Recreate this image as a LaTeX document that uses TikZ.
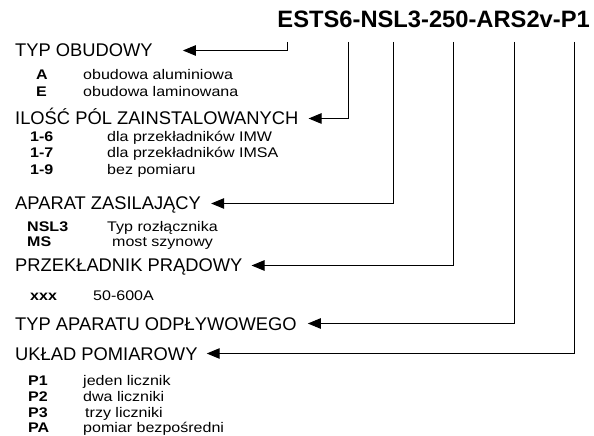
\documentclass[tikz,border=0pt]{standalone}
\usepackage{fontspec}
\setmainfont{Liberation Sans}
\newfontfamily\itemfont[FakeStretch=1.15]{Liberation Sans}
\usetikzlibrary{arrows.meta}
\begin{document}
\begin{tikzpicture}[x=1bp,y=-1bp]
	\tikzset{head/.style = {anchor=base west,inner sep=0,text height=13bp,text depth=0pt,font=\fontsize{18.4}{20}\selectfont}}
	\tikzset{key/.style = {anchor=base west,inner sep=0,font=\itemfont\fontsize{14}{16}\selectfont\bfseries}}
	\tikzset{desc/.style = {anchor=base west,inner sep=0,font=\itemfont\fontsize{14}{16}\selectfont}}
	\tikzset{edge/.style = {-{Triangle[length=13bp,width=10.5bp]},line width=1bp}}
	\useasboundingbox (0,0) rectangle (594,436);
	% oznaczenie
	\node[anchor=base east,inner sep=0,font=\fontsize{23.8}{26}\selectfont\bfseries] (code) at (590,28) {ESTS6-NSL3-250-ARS2v-P1};
	\coordinate (c1) at (287,42);
	\coordinate (c2) at (348,42);
	\coordinate (c3) at (393,42);
	\coordinate (c4) at (453,42);
	\coordinate (c5) at (514,42);
	\coordinate (c6) at (574,42);
	% grupy
	\node[head] (obud) at (15,57) {TYP OBUDOWY};
	\node[head] (pola) at (15,125) {ILOŚĆ PÓL ZAINSTALOWANYCH};
	\node[head] (zasil) at (15,210) {APARAT ZASILAJĄCY};
	\node[head] (przekl) at (15,272) {PRZEKŁADNIK PRĄDOWY};
	\node[head] (odpl) at (15,330) {TYP APARATU ODPŁYWOWEGO};
	\node[head] (pomiar) at (15,360) {UKŁAD POMIAROWY};
	% warianty
	\node[key] (kA) at (36,80) {A};
	\node[desc] (dA) at (83,80) {obudowa aluminiowa};
	\node[key] (kE) at (36,97) {E};
	\node[desc] (dE) at (83,97) {obudowa laminowana};
	\node[key] (k16) at (30,142) {1-6};
	\node[desc] (d16) at (107,142) {dla przekładników IMW};
	\node[key] (k17) at (30,158) {1-7};
	\node[desc] (d17) at (107,158) {dla przekładników IMSA};
	\node[key] (k19) at (30,175) {1-9};
	\node[desc] (d19) at (107,175) {bez pomiaru};
	\node[key] (kNSL) at (27,232) {NSL3};
	\node[desc] (dNSL) at (107,232) {Typ rozłącznika};
	\node[key] (kMS) at (27,247) {MS};
	\node[desc] (dMS) at (112,247) {most szynowy};
	\node[key] (kxxx) at (30,300) {xxx};
	\node[desc] (dxxx) at (93,300) {50-600A};
	\node[key] (kP1) at (28,385) {P1};
	\node[desc] (dP1) at (83,385) {jeden licznik};
	\node[key] (kP2) at (28,401) {P2};
	\node[desc] (dP2) at (83,401) {dwa liczniki};
	\node[key] (kP3) at (28,417) {P3};
	\node[desc] (dP3) at (85,417) {trzy liczniki};
	\node[key] (kPA) at (28,432) {PA};
	\node[desc] (dPA) at (83,432) {pomiar bezpośredni};
	% strzalki
	\draw[edge,shorten >=30bp] (c1) |- (obud.east);
	\draw[edge,shorten >=10bp] (c2) |- (pola.east);
	\draw[edge,shorten >=10bp] (c3) |- (zasil.east);
	\draw[edge,shorten >=9bp] (c4) |- (przekl.east);
	\draw[edge,shorten >=11bp] (c5) |- (odpl.east);
	\draw[edge,shorten >=9bp] (c6) |- (pomiar.east);
\end{tikzpicture}
\end{document}
